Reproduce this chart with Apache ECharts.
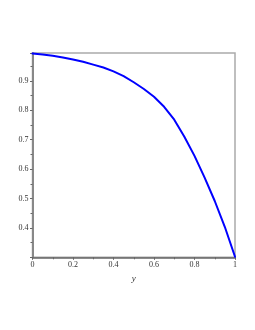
<!DOCTYPE html>
<html>
<head>
<meta charset="utf-8">
<script src="https://cdn.jsdelivr.net/npm/echarts@6/dist/echarts.min.js"></script>
<style>html,body{margin:0;padding:0;background:#fff;}#c{width:255px;height:330px;}</style>
</head>
<body>
<div id="c"></div>
<script>
const xValues = [0,0.05,0.1,0.15,0.2,0.25,0.3,0.35,0.4,0.45,0.5,0.55,0.6,0.65,0.7,0.75,0.8,0.85,0.9,0.95,1.0];
const yValues = [0.993,0.990,0.9855,0.980,0.973,0.965,0.9555,0.9455,0.9325,0.9165,0.8955,0.8725,0.846,0.812,0.768,0.710,0.645,0.571,0.4915,0.403,0.302];
const xTickLabels = ['0','0.2','0.4','0.6','0.8','1'];
const yTickLabels = ['0.4','0.5','0.6','0.7','0.8','0.9'];
const xName = 'y';

const chart = echarts.init(document.getElementById('c'), null, {renderer:'canvas'});
const labelFont = {fontFamily:'Liberation Serif', fontSize:8, color:'#333'};
function fmtX(v){
  const s = (Math.round(v*10)/10).toString();
  return xTickLabels.indexOf(s) >= 0 ? s : '';
}
function fmtY(v){
  const s = (Math.round(v*10)/10).toFixed(1);
  return (Math.abs(v*10 - Math.round(v*10)) < 1e-6 && yTickLabels.indexOf(s) >= 0) ? s : '';
}
chart.setOption({
  animation:false,
  grid:{left:32.5, top:53, right:20, bottom:72.7, containLabel:false,
        show:true, borderColor:'#aaa', borderWidth:1.5, backgroundColor:'transparent'},
  xAxis:{
    type:'value', min:0, max:1, interval:0.2, position:'bottom',
    name:xName, nameLocation:'middle', nameGap:15,
    nameTextStyle:{fontFamily:'Liberation Serif', fontStyle:'italic', fontSize:9, color:'#333'},
    axisLine:{show:true, onZero:false, lineStyle:{color:'#666', width:1.5}},
    axisTick:{show:true, inside:false, length:2.5, lineStyle:{color:'#666'}},
    minorTick:{show:true, splitNumber:2, length:2, lineStyle:{color:'#666'}},
    axisLabel:Object.assign({margin:4, formatter:fmtX}, labelFont),
    splitLine:{show:false}
  },
  yAxis:{
    type:'value', min:0.3, max:0.995, interval:0.1, position:'left',
    axisLine:{show:true, onZero:false, lineStyle:{color:'#888', width:2}},
    axisTick:{show:true, inside:false, length:2.5, lineStyle:{color:'#666'}},
    minorTick:{show:true, splitNumber:2, length:2, lineStyle:{color:'#666'}},
    axisLabel:Object.assign({margin:4, formatter:fmtY, showMinLabel:false, showMaxLabel:false}, labelFont),
    splitLine:{show:false}
  },
  series:[{
    type:'line', smooth:false, symbol:'none',
    data:xValues.map((x,i)=>[x,yValues[i]]),
    lineStyle:{color:'#0000ff', width:2, join:'round', cap:'round'},
    clip:false
  }]
});
</script>
</body>
</html>
